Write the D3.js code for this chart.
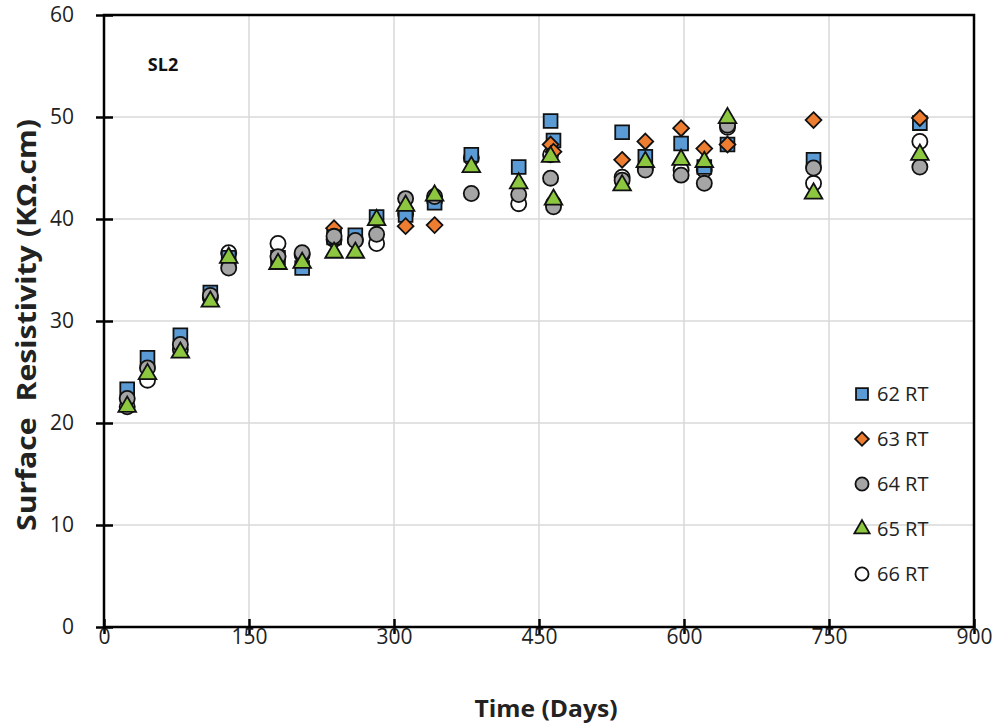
<!DOCTYPE html>
<html><head><meta charset="utf-8">
<script src="https://cdn.jsdelivr.net/npm/d3@7"></script>
<style>body{margin:0;background:#fff;} text{font-family:"Open Sans",sans-serif;}</style>
</head><body>
<svg id="c" width="1004" height="727"></svg>
<script>
const days = [24,45,79,110,129,180,205,238,260,282,312,342,380,429,462,465,536,560,597,621,645,734,844];
const s62 = [23.3,26.4,28.6,32.8,36.2,36.2,35.2,38.2,38.4,40.2,40.4,41.6,46.3,45.1,49.6,47.7,48.5,46.1,47.4,45.1,47.3,45.8,49.4];
const s63 = [null,null,null,null,null,null,null,39.1,null,null,39.3,39.4,null,null,47.3,46.6,45.8,47.6,48.9,46.9,47.3,49.7,49.9];
const s64 = [22.4,25.4,27.7,32.5,35.2,36.3,36.7,38.3,37.9,38.5,42.0,42.2,42.5,42.4,44.0,41.2,43.8,44.8,44.3,43.5,49.2,45.0,45.1];
const s65 = [21.6,24.8,26.9,31.9,36.2,35.6,35.7,36.7,36.7,39.9,41.3,42.3,45.1,43.5,46.1,41.9,43.3,45.6,45.8,45.6,49.9,42.5,46.3];
const s66 = [21.6,24.2,27.2,32.3,36.7,37.6,36.5,38.0,38.0,37.6,40.5,41.8,46.0,41.5,46.3,41.5,44.1,45.0,44.8,44.8,49.0,43.5,47.6];
const seriesNames = ["62 RT","63 RT","64 RT","65 RT","66 RT"];
const xTicks = [0,150,300,450,600,750,900];
const yTicks = [0,10,20,30,40,50,60];

const squareDiamond = {draw(ctx,size){const r=Math.sqrt(size/2);
  ctx.moveTo(0,-r);ctx.lineTo(r,0);ctx.lineTo(0,r);ctx.lineTo(-r,0);ctx.closePath();}};

const series = [
  {name:"66 RT", vals:s66, sym:d3.symbolCircle, fill:"#ffffff", size:180},
  {name:"62 RT", vals:s62, sym:d3.symbolSquare, fill:"#5B9BD5", size:190},
  {name:"63 RT", vals:s63, sym:squareDiamond, fill:"#ED7D31", size:125},
  {name:"64 RT", vals:s64, sym:d3.symbolCircle, fill:"#A5A5A5", size:180},
  {name:"65 RT", vals:s65, sym:d3.symbolTriangle, fill:"#8DC63F", size:135}
];

const svg = d3.select("#c");
const L=104, R=974, T=15, B=627;
const x = d3.scaleLinear().domain([0,900]).range([L,R]);
const y = d3.scaleLinear().domain([0,60]).range([B,T]);

// gridlines
svg.append("g").selectAll("line").data(xTicks).join("line")
  .attr("x1",d=>x(d)).attr("x2",d=>x(d)).attr("y1",T).attr("y2",B)
  .attr("stroke","#D9D9D9").attr("stroke-width",1.5);
svg.append("g").selectAll("line").data(yTicks).join("line")
  .attr("x1",L).attr("x2",R).attr("y1",d=>y(d)).attr("y2",d=>y(d))
  .attr("stroke","#D9D9D9").attr("stroke-width",1.5);

// axes
const xa = svg.append("g").attr("transform",`translate(0,${B})`)
  .call(d3.axisBottom(x).tickValues(xTicks).tickSizeInner(7).tickSizeOuter(0).tickPadding(5));
const ya = svg.append("g").attr("transform",`translate(${L},0)`)
  .call(d3.axisLeft(y).tickValues(yTicks).tickSizeInner(8).tickSizeOuter(0).tickPadding(22));
[xa,ya].forEach(g=>{
  g.select(".domain").remove();
  g.selectAll(".tick line").attr("stroke","#000").attr("stroke-width",2.5);
  g.selectAll(".tick text").attr("font-size",21).attr("fill","#222").attr("font-family","Open Sans, sans-serif");
});
xa.selectAll(".tick text").attr("y",2);
// inner tick parts
xa.selectAll(".tick").append("line").attr("y1",0).attr("y2",-8).attr("stroke","#000").attr("stroke-width",2.5);
ya.selectAll(".tick").append("line").attr("x1",0).attr("x2",9).attr("stroke","#000").attr("stroke-width",2.5);

// frame
svg.append("rect").attr("x",L).attr("y",T).attr("width",R-L).attr("height",B-T)
  .attr("fill","none").attr("stroke","#000").attr("stroke-width",2.5);

// points
series.forEach(s=>{
  const pts = days.map((d,i)=>({d, v:s.vals[i]})).filter(p=>p.v!=null);
  svg.append("g").selectAll("path").data(pts).join("path")
    .attr("d", d3.symbol().type(s.sym).size(s.size))
    .attr("transform", p=>`translate(${x(p.d)},${y(p.v)})`)
    .attr("fill", s.fill).attr("stroke","#111").attr("stroke-width",1.8);
});

// legend
const leg = svg.append("g");
seriesNames.forEach((n,i)=>{
  const s = series.find(z=>z.name===n);
  const ly = 394 + i*45;
  leg.append("path").attr("d", d3.symbol().type(s.sym).size(s.size*0.75))
    .attr("transform",`translate(862,${ly})`)
    .attr("fill", s.fill).attr("stroke","#111").attr("stroke-width",1.8);
  leg.append("text").attr("x",877).attr("y",ly+7).attr("font-size",20).attr("fill","#222").text(n);
});

// titles
svg.append("text").attr("x",163).attr("y",71).attr("font-size",18).attr("font-weight","bold")
  .attr("text-anchor","middle").attr("fill","#111").text("SL2");
svg.append("text").attr("x",546).attr("y",717).attr("font-size",24).attr("font-weight","bold")
  .attr("text-anchor","middle").attr("fill","#222")
  .attr("textLength",143).attr("lengthAdjust","spacingAndGlyphs").text("Time (Days)");
svg.append("text").attr("transform","translate(36,325) rotate(-90)").attr("font-size",26).attr("font-weight","bold")
  .attr("text-anchor","middle").attr("fill","#222").attr("xml:space","preserve")
  .attr("textLength",412).attr("lengthAdjust","spacingAndGlyphs").text("Surface  Resistivity (KΩ.cm)");
</script>
</body></html>
